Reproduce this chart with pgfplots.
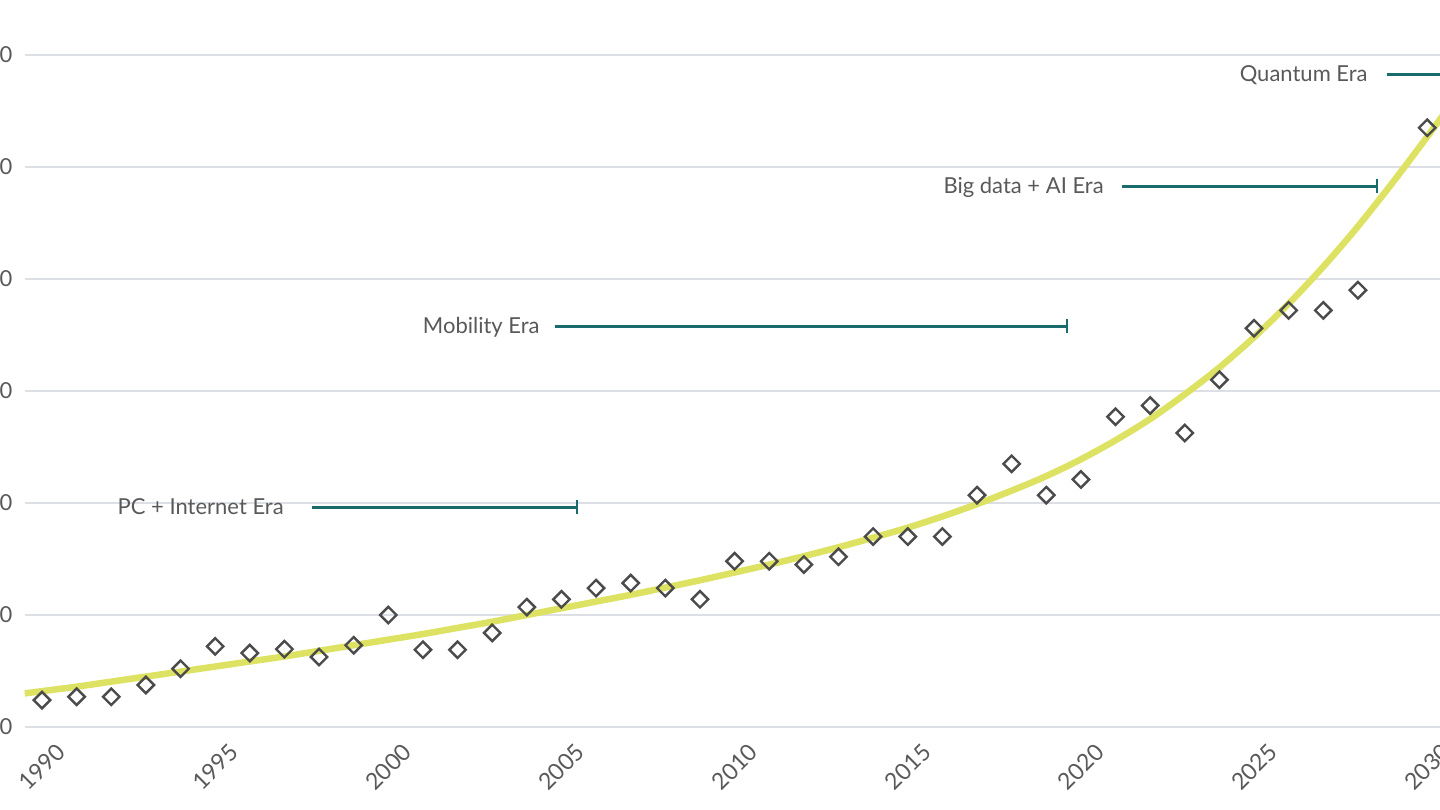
\documentclass[border=0pt]{standalone}
\usepackage{pgfplots}
\pgfplotsset{compat=1.18}
\usepackage{pgfplotstable}
\usepackage{fontspec}
\setmainfont{Lato}
\definecolor{txt}{RGB}{89,89,89}
\definecolor{gridc}{RGB}{220,224,229}
\definecolor{trend}{RGB}{222,226,98}
\definecolor{era}{RGB}{26,108,108}
\definecolor{mk}{RGB}{75,75,75}

\pgfplotstableread{
year val
1990 24
1991 27
1992 27
1993 37.5
1994 52
1995 72
1996 66
1997 69.5
1998 62.5
1999 73
2000 100
2001 69
2002 69
2003 84
2004 107
2005 114
2006 124
2007 128.5
2008 124
2009 114
2010 148
2011 148
2012 145
2013 152
2014 170
2015 170
2016 170
2017 207
2018 235
2019 207
2020 221
2021 277
2022 287
2023 262.5
2024 310
2025 356
2026 372
2027 372
2028 390
2030 535
}\pts

\pgfplotstableread{
year val
1989.5 30
1990 32
1991 36
1992 40.5
1993 45
1994 49.5
1995 54
1996 58.5
1997 63
1998 68
1999 73
2000 78
2001 83
2002 88.5
2003 94
2004 100
2005 106
2006 112
2007 118
2008 124.5
2009 131
2010 138
2011 145
2012 152.5
2013 160.5
2014 169
2015 178
2016 188
2017 199
2018 211
2019 224
2020 239
2021 256
2022 275
2023 297
2024 321
2025 348
2026 378
2027 411
2028 447
2029 486
2030 527
2030.5 548
}\trendtab

\begin{document}
\begin{tikzpicture}
\begin{axis}[
  scale only axis,
  width=709.9pt, height=336pt,
  xmin=1989.5, xmax=2030.5,
  ymin=0, ymax=600,
  xtick={1990,1995,...,2030},
  ytick={0,100,...,600},
  xticklabel={\pgfmathprintnumber[1000 sep={}]{\tick}},
  axis line style={draw=none},
  tick style={draw=none},
  xmajorgrids=false,
  ymajorgrids=true,
  major grid style={draw=gridc, line width=0.75pt},
  font=\fontsize{11}{13}\selectfont,
  tick label style={text=txt},
  /pgf/number format/assume math mode=true,
  yticklabel style={anchor=east, inner sep=0pt, xshift=-6pt},
  xticklabel style={yshift=-20pt, rotate=45, anchor=center, inner sep=0pt, font=\fontsize{11.5}{13}\selectfont},
  clip=true,
]
\addplot[trend, line width=3.25pt, smooth, tension=0.5, no markers] table[x=year,y=val]{\trendtab};
\addplot[only marks, mark=square, mark size=2.9pt, mark options={rotate=45, draw=mk, fill=white, line width=1.2pt}] table[x=year,y=val]{\pts};

% era annotations
\addplot[era, line width=1.5pt, mark=|, mark indices={2}, mark size=3.5pt, mark options={line width=1pt}] coordinates {(1997.8,196) (2005.45,196)};
\addplot[era, line width=1.5pt, mark=|, mark indices={2}, mark size=3.5pt, mark options={line width=1pt}] coordinates {(2004.8,358) (2019.6,358)};
\addplot[era, line width=1.5pt, mark=|, mark indices={2}, mark size=3.5pt, mark options={line width=1pt}] coordinates {(2021.2,483) (2028.55,483)};
\addplot[era, line width=1.5pt, no markers] coordinates {(2028.84,583) (2031,583)};

\node[anchor=east, inner sep=0pt, text=txt, text height=0.72em, text depth=0pt] at (axis cs:1996.99,196) {PC + Internet Era};
\node[anchor=east, inner sep=0pt, text=txt, text height=0.72em, text depth=0pt] at (axis cs:2004.38,358) {Mobility Era};
\node[anchor=east, inner sep=0pt, text=txt, text height=0.72em, text depth=0pt] at (axis cs:2020.67,483) {Big data + AI Era};
\node[anchor=east, inner sep=0pt, text=txt, text height=0.72em, text depth=0pt] at (axis cs:2028.29,583) {Quantum Era};

\coordinate (BL) at (axis cs:1988.787,-74.1);
\coordinate (TR) at (axis cs:2030.37,649.1);
\end{axis}
\pgfresetboundingbox
\path[use as bounding box] (BL) rectangle (TR);
\end{tikzpicture}
\end{document}
